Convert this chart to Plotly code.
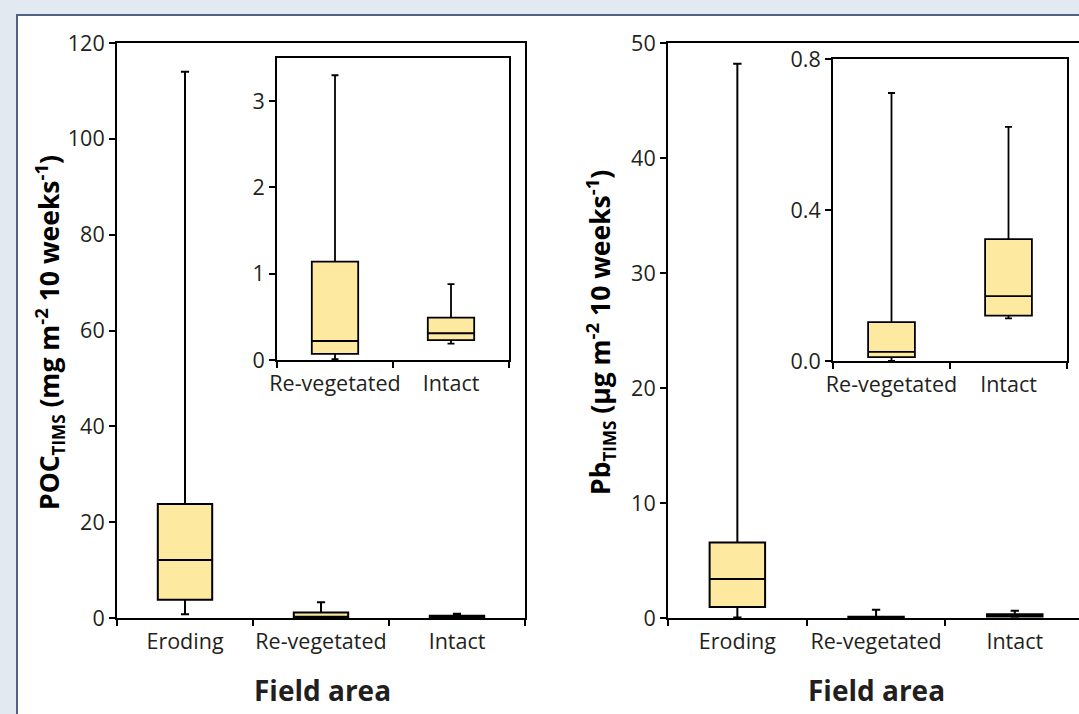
import plotly.graph_objects as go

W, H = 1079, 714

# ---- data ----
main_cats = ["Eroding", "Re-vegetated", "Intact"]
inset_cats = ["Re-vegetated", "Intact"]

# POC (mg m-2 10 weeks-1)
poc_min = [0.8, 0.01, 0.19]
poc_q1 = [3.8, 0.07, 0.23]
poc_med = [12.1, 0.22, 0.31]
poc_q3 = [23.8, 1.14, 0.49]
poc_max = [114.0, 3.3, 0.88]

# Pb (ug m-2 10 weeks-1)
pb_min = [0.05, 0.0, 0.113]
pb_q1 = [0.96, 0.01, 0.12]
pb_med = [3.4, 0.024, 0.172]
pb_q3 = [6.56, 0.103, 0.323]
pb_max = [48.2, 0.71, 0.62]

poc_ticks = [0, 20, 40, 60, 80, 100, 120]
poc_inset_ticks = [0, 1, 2, 3]
pb_ticks = [0, 10, 20, 30, 40, 50]
pb_inset_ticks = [0.0, 0.4, 0.8]

FILL = "#fde9a0"
FONT = "Open Sans"
TXT = "#231f20"


def px_x(p):
    return p / W


def px_y(p):
    return 1 - p / H


fig = go.Figure()


def add_boxes(cats, mn, q1, med, q3, mx, xa, ya, lw):
    for i, c in enumerate(cats):
        fig.add_trace(go.Box(
            x=[c], q1=[q1[i]], median=[med[i]], q3=[q3[i]],
            lowerfence=[mn[i]], upperfence=[mx[i]],
            xaxis=xa, yaxis=ya, width=0.4, whiskerwidth=0.15,
            fillcolor=FILL, line=dict(color="black", width=lw),
            showlegend=False, hoverinfo="skip", boxpoints=False,
        ))


add_boxes(main_cats, poc_min, poc_q1, poc_med, poc_q3, poc_max, "x", "y", 2)
add_boxes(inset_cats, poc_min[1:], poc_q1[1:], poc_med[1:], poc_q3[1:], poc_max[1:], "x2", "y2", 1.8)
add_boxes(main_cats, pb_min, pb_q1, pb_med, pb_q3, pb_max, "x3", "y3", 2)
add_boxes(inset_cats, pb_min[1:], pb_q1[1:], pb_med[1:], pb_q3[1:], pb_max[1:], "x4", "y4", 1.8)

tickfont = dict(family=FONT, size=21.5, color=TXT)


def xax(domain, cats, rng, anchor, mirror=True, lw=2):
    return dict(domain=domain, type="category", categoryorder="array", categoryarray=cats,
                range=rng, anchor=anchor, showline=True, linecolor="black", linewidth=lw,
                mirror=mirror, ticks="outside", tickson="boundaries", ticklen=6, tickwidth=lw,
                tickcolor="black", showgrid=False, zeroline=False, tickfont=tickfont,
                tickangle=0, ticklabelstandoff=3, automargin=False, fixedrange=True)


def yax(domain, rng, tv, anchor, fmt=None, mirror=True, lw=2):
    d = dict(domain=domain, range=rng, anchor=anchor, showline=True, linecolor="black",
             linewidth=lw, mirror=mirror, ticks="outside", ticklen=6, tickwidth=lw,
             tickcolor="black", tickvals=tv, showgrid=False, zeroline=False,
             tickfont=tickfont, automargin=False, fixedrange=True)
    if fmt:
        d["tickformat"] = fmt
    return d


main_y_dom = [px_y(618), px_y(43)]
fig.update_layout(
    xaxis=xax([px_x(117), px_x(525)], main_cats, [-0.5, 2.5], "y"),
    yaxis=yax(main_y_dom, [0, 120], poc_ticks, "x"),
    xaxis2=xax([px_x(277), px_x(509)], inset_cats, [-0.5, 1.5], "y2", lw=1.8),
    yaxis2=yax([px_y(360), px_y(58)], [0, 3.5], poc_inset_ticks, "x2", lw=1.8),
    xaxis3=xax([px_x(668), 1.0], main_cats, [-0.5, 2.463], "y3"),
    yaxis3=yax(main_y_dom, [0, 50], pb_ticks, "x3", mirror=False),
    xaxis4=xax([px_x(833), px_x(1067)], inset_cats, [-0.5, 1.5], "y4", lw=1.8),
    yaxis4=yax([px_y(361), px_y(59)], [0, 0.8], pb_inset_ticks, "x4", fmt=".1f", lw=1.8),
)

fig.add_shape(type="rect", xref="paper", yref="paper", x0=px_x(17), x1=1.02,
              y0=-0.02, y1=px_y(15), fillcolor="white",
              line=dict(color="#4f6480", width=2), layer="below")

SUB = "<sub><span style='font-size:17px'>TIMS</span></sub>"
fig.add_annotation(text=f"<b>POC{SUB} (mg m<sup>-2</sup> 10 weeks<sup>-1</sup>)</b>",
                   x=px_x(49), y=px_y(333), xref="paper", yref="paper", textangle=-90,
                   xanchor="center", yanchor="middle",
                   showarrow=False, font=dict(family=FONT, size=26.5, color="black"))
fig.add_annotation(text=f"<b>Pb{SUB} (µg m<sup>-2</sup> 10 weeks<sup>-1</sup>)</b>",
                   x=px_x(600), y=px_y(333), xref="paper", yref="paper", textangle=-90,
                   xanchor="center", yanchor="middle",
                   showarrow=False, font=dict(family=FONT, size=26.5, color="black"))
for cx in (322, 876):
    fig.add_annotation(text="<b>Field area</b>", x=px_x(cx), y=px_y(690), xref="paper",
                       yref="paper", showarrow=False, xanchor="center", yanchor="middle",
                       font=dict(family=FONT, size=28, color=TXT))

fig.update_layout(
    width=W, height=H, margin=dict(l=0, r=0, t=0, b=0),
    paper_bgcolor="#e3e9f1", plot_bgcolor="rgba(0,0,0,0)",
    boxmode="overlay", showlegend=False,
)

fig.write_html("out.html", config={"displayModeBar": False},
               post_script="document.body.style.margin='0';document.body.style.overflow='hidden';")
